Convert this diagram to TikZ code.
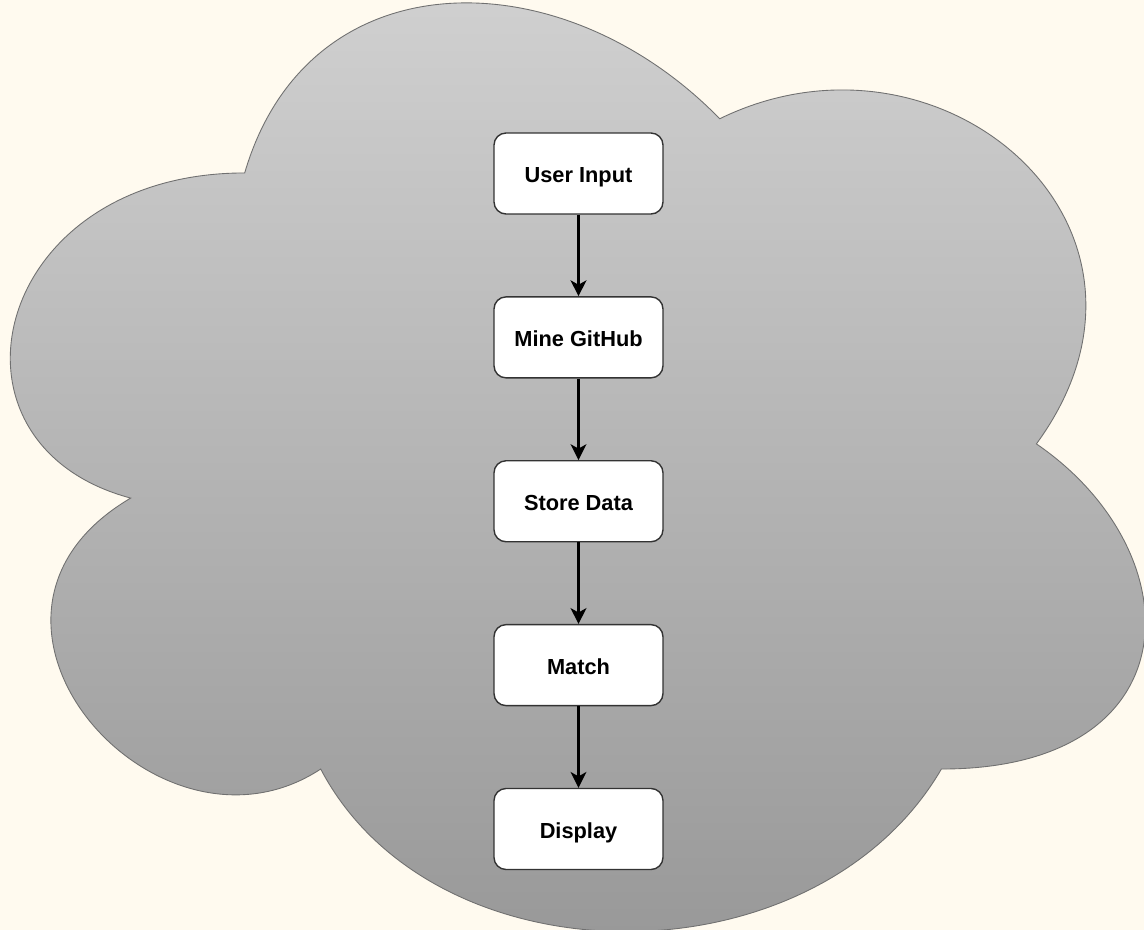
\documentclass[tikz,border=0pt]{standalone}
\usepackage{fontspec}
\setmainfont{Liberation Sans}
\usetikzlibrary{positioning,arrows.meta}
\definecolor{paper}{RGB}{255,250,239}
\definecolor{cloudtop}{RGB}{210,210,210}
\definecolor{cloudbot}{RGB}{150,150,150}
\definecolor{cloudline}{RGB}{112,112,112}
\tikzset{
  stage/.style={draw=black!80, line width=0.8pt, fill=white, rounded corners=0.24cm,
    minimum width=3.38cm, minimum height=1.62cm, text height=10.8pt, text depth=0pt,
    font=\fontsize{12.4}{14}\selectfont\bfseries},
  flow/.style={line width=1.3pt, -{Stealth[length=9pt,width=9pt,inset=2.5pt]}}
}
\begin{document}
\begin{tikzpicture}[x=0.02cm,y=-0.02cm]
            
            \fill[paper] (0,0) rectangle (1144,930);
            \useasboundingbox (0,0) rectangle (1144,930);
            
            % cloud
            \begin{scope}[shift={(-72,-98)},x=25.34cm,y=-21.68cm]
            \draw[cloudline, line width=0.5pt, top color=cloudtop, bottom color=cloudbot]
              (0.25,0.25) .. controls (0.05,0.25) and (0,0.5) .. (0.16,0.55)
              .. controls (0,0.66) and (0.18,0.9) .. (0.31,0.8)
              .. controls (0.4,1) and (0.7,1) .. (0.8,0.8)
              .. controls (1,0.8) and (1,0.6) .. (0.875,0.5)
              .. controls (1,0.3) and (0.8,0.1) .. (0.625,0.2)
              .. controls (0.5,0.05) and (0.3,0.05) .. (0.25,0.25) -- cycle;
            \end{scope}
            
            \node[stage] (input) at (578.5,173.5) {User Input};
            \node[stage, below=1.63cm of input] (mine) {Mine GitHub};
            \node[stage, below=1.63cm of mine] (store) {Store Data};
            \node[stage, below=1.63cm of store] (match) {Match};
            \node[stage, below=1.63cm of match] (show) {Display};
            
            \draw[flow] (input) -- (mine);
            \draw[flow] (mine) -- (store);
            \draw[flow] (store) -- (match);
            \draw[flow] (match) -- (show);
            
        \end{tikzpicture}
\end{document}
